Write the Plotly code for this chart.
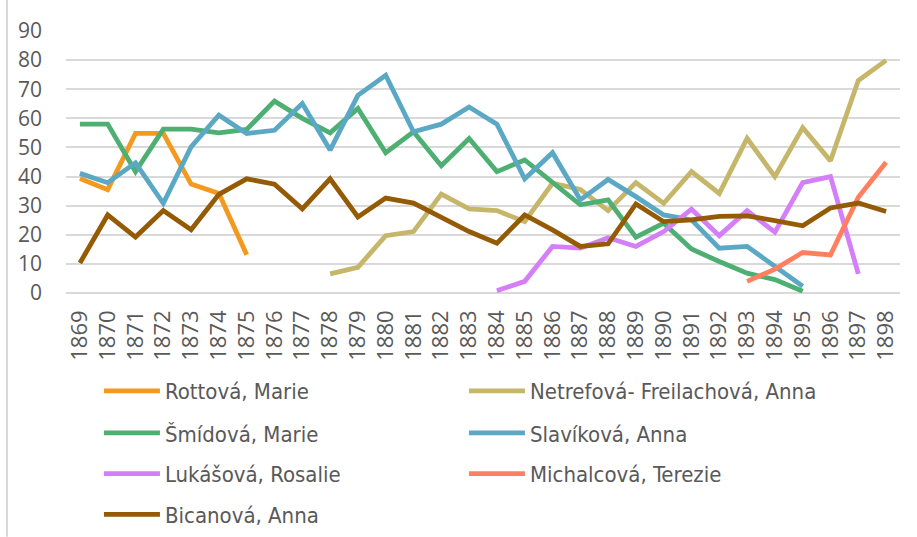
import plotly.graph_objects as go

years = [str(y) for y in range(1869, 1899)]

N = None
rottova = [39.3, 35.5, 54.8, 54.8, 37.4, 34.2, 13.1] + [N] * 23
netrefova = [N] * 9 + [6.6, 8.8, 19.7, 21.1, 34.0, 28.9, 28.3, 24.5, 37.7, 35.6, 28.3,
                      37.9, 30.8, 41.7, 34.2, 53.1, 40.0, 56.8, 45.4, 73.0, 79.9]
smidova = [58.0, 58.0, 41.7, 56.3, 56.3, 55.0, 56.2, 65.9, 60.0, 55.0, 63.4, 48.2, 55.4,
           43.7, 53.1, 41.7, 45.7, 37.9, 30.3, 32.0, 19.2, 24.0, 15.1, 10.8, 6.8, 4.6, 0.6] + [N] * 3
slavikova = [41.1, 37.9, 44.7, 30.8, 50.2, 61.1, 54.8, 55.9, 65.1, 49.1, 67.9, 74.8, 55.4,
             58.0, 63.9, 58.0, 39.2, 48.2, 32.0, 39.0, 33.1, 26.8, 25.1, 15.4, 16.0, 9.1, 2.3] + [N] * 3
lukasova = [N] * 15 + [0.8, 4.0, 16.0, 15.4, 19.0, 16.0, 21.1, 28.8, 19.7, 28.3, 20.9, 37.9, 40.0, 6.6, N]
michalcova = [N] * 24 + [4.0, 8.2, 13.9, 13.1, 32.9, 44.9]
bicanova = [10.3, 26.8, 19.2, 28.3, 21.7, 33.9, 39.2, 37.4, 28.9, 39.2, 26.1, 32.6, 30.9,
            26.1, 21.1, 17.1, 26.8, 21.7, 16.0, 16.9, 30.6, 24.5, 25.1, 26.3, 26.5, 24.9,
            23.1, 29.2, 30.9, 28.0]

series = [
    ("Rottová, Marie", rottova, "#F39A1E", "legend"),
    ("Netrefová- Freilachová, Anna", netrefova, "#C5B66A", "legend"),
    ("Šmídová, Marie", smidova, "#4DAF72", "legend2"),
    ("Slavíková, Anna", slavikova, "#5BA8C5", "legend2"),
    ("Lukášová, Rosalie", lukasova, "#D47EF7", "legend3"),
    ("Michalcová, Terezie", michalcova, "#FF7F5F", "legend3"),
    ("Bicanová, Anna", bicanova, "#955A04", "legend4"),
]

fig = go.Figure()
for name, vals, color, lg in series:
    fig.add_trace(go.Scatter(
        x=years, y=vals, name=name, mode="lines",
        line=dict(color=color, width=4.8),
        connectgaps=False, legend=lg,
    ))

legend_font = dict(family="DejaVu Sans Condensed, Liberation Sans, sans-serif", size=22, color="#595959")
def leg(y):
    return dict(orientation="h", x=0.0395, xanchor="left", y=y, yanchor="middle",
                font=legend_font, itemwidth=56, entrywidth=294, entrywidthmode="pixels",
                bgcolor="rgba(0,0,0,0)", tracegroupgap=0)

fig.update_layout(
    width=917, height=537,
    margin=dict(l=66, r=17, t=31, b=244, autoexpand=False),
    paper_bgcolor="white", plot_bgcolor="white",
    showlegend=True,
    legend=leg(-0.374), legend2=leg(-0.535), legend3=leg(-0.69), legend4=leg(-0.846),
    xaxis=dict(
        type="category", range=[-0.5, 29.5], autorange=False, tickangle=-90, showgrid=False,
        showline=False, zeroline=False, automargin=False,
        tickfont=dict(family="Open Sans, Liberation Sans, sans-serif", size=22, color="#595959"),
        ticks="", ticklabelstandoff=12,
    ),
    yaxis=dict(
        range=[0, 90], autorange=False, dtick=10, showgrid=True, gridcolor="#D9D9D9", gridwidth=1.5,
        zeroline=True, zerolinecolor="#D9D9D9", zerolinewidth=1.5, showline=False,
        automargin=False,
        tickfont=dict(family="Open Sans, Liberation Sans, sans-serif", size=21, color="#595959"),
        ticks="", ticklabelstandoff=23,
    ),
    shapes=[dict(type="line", xref="paper", yref="paper", x0=-0.0707, x1=-0.0707,
                 y0=-0.93, y1=1.12, line=dict(color="#D9D9D9", width=2))],
)

fig.write_html("out.html", config={"displayModeBar": False},
               post_script="document.body.style.margin='0';")
